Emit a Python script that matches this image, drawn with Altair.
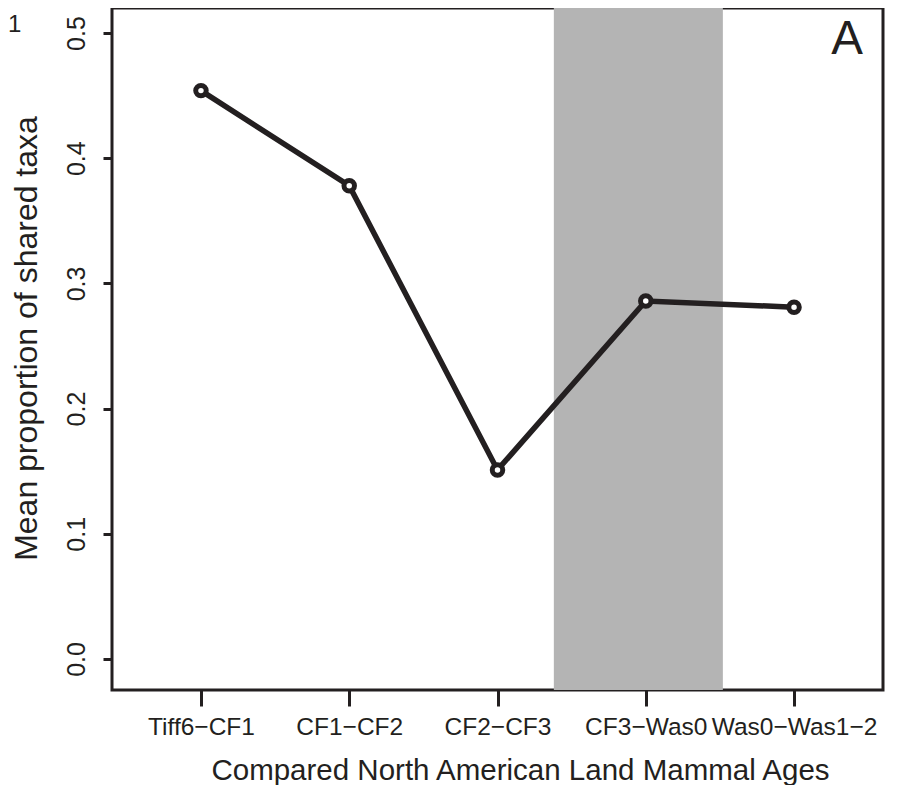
import json
import altair as alt
import pandas as pd

comparisons = ["Tiff6\u2212CF1", "CF1\u2212CF2", "CF2\u2212CF3", "CF3\u2212Was0", "Was0\u2212Was1\u22122"]
positions = [1, 2, 3, 4, 5]
shared = [0.454, 0.378, 0.151, 0.286, 0.281]
band_start = [3.38]
band_end = [4.52]
y_ticks = [0.0, 0.1, 0.2, 0.3, 0.4, 0.5]

INK = "#231f20"
FONT = "Liberation Sans"

df = pd.DataFrame({"pos": positions, "value": shared, "label": comparisons})
band_df = pd.DataFrame({"x0": band_start, "x1": band_end})

xscale = alt.Scale(domain=[0.4, 5.6], nice=False, zero=False)
yscale = alt.Scale(domain=[-0.0248, 0.52], nice=False, zero=False)

label_expr = json.dumps(comparisons) + "[datum.value - 1]"

x_axis = alt.Axis(
    values=positions, labelExpr=label_expr, title="Compared North American Land Mammal Ages",
    grid=False, domain=False, ticks=True, tickSize=16, tickWidth=3, tickColor=INK,
    labelFont=FONT, labelFontSize=24.5, labelColor=INK, labelPadding=9,
    labelAlign="center", labelBaseline="top", labelFlush=False, labelOverlap=False,
    titleFont=FONT, titleFontSize=29.5, titleFontWeight="normal", titleColor=INK,
    titleBaseline="alphabetic", titleY=89, titleX=408, titleAlign="center",
)
y_axis = alt.Axis(
    values=y_ticks, format=".1f", title="Mean proportion of shared taxa",
    grid=False, domain=False, ticks=True, tickSize=9, tickWidth=3, tickColor=INK,
    labelFont=FONT, labelFontSize=25, labelColor=INK, labelPadding=19, labelAngle=270,
    labelAlign="center", labelBaseline="alphabetic", labelFlush=False, labelOverlap=False,
    titleFont=FONT, titleFontSize=32, titleFontWeight="normal", titleColor=INK,
    titleAngle=270, titleBaseline="alphabetic", titleX=-76, titleY=330, titleAlign="center",
)

band = alt.Chart(band_df).mark_rect(color="#b4b4b4").encode(
    x=alt.X("x0:Q", scale=xscale, axis=x_axis),
    x2="x1:Q",
)

line = alt.Chart(df).mark_line(color=INK, strokeWidth=5.5).encode(
    x=alt.X("pos:Q", scale=xscale),
    y=alt.Y("value:Q", scale=yscale, axis=y_axis),
)

points = alt.Chart(df).mark_point(
    shape="circle", filled=True, fill="white", stroke=INK, strokeWidth=5, size=110, opacity=1
).encode(
    x=alt.X("pos:Q", scale=xscale),
    y=alt.Y("value:Q", scale=yscale),
)

panel_label = alt.Chart(pd.DataFrame({"t": ["A"]})).mark_text(
    font=FONT, fontSize=47.5, color=INK, align="right", baseline="alphabetic"
).encode(text="t:N", x=alt.value(751), y=alt.value(46))

stray = alt.Chart(pd.DataFrame({"t": ["1"]})).mark_text(
    font=FONT, fontSize=24, color=INK, align="left", baseline="alphabetic"
).encode(text="t:N", x=alt.value(-104), y=alt.value(24))

chart = alt.layer(band, line, points, panel_label, stray).properties(
    width=771, height=682,
    autosize=alt.AutoSizeParams(type="none"),
    padding={"left": 104, "top": 0, "right": 22, "bottom": 95},
    background="white",
).configure_view(stroke=INK, strokeWidth=3)

chart.save("out.html", embed_options={"renderer": "svg", "actions": False})
